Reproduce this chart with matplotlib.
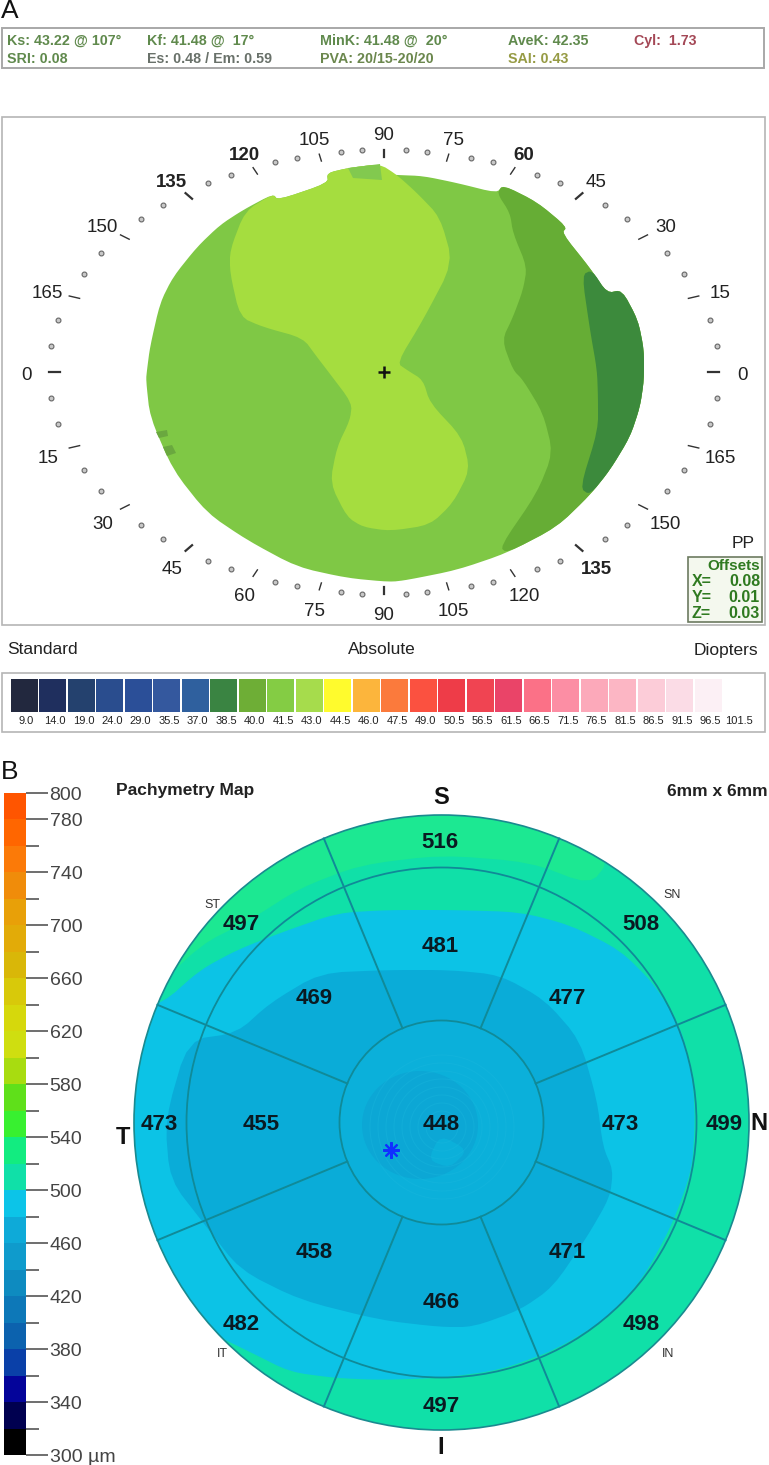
import numpy as np
import matplotlib
matplotlib.use('Agg')
import matplotlib.pyplot as plt
from matplotlib.patches import Polygon, Rectangle, Circle, Ellipse

plt.rcParams['font.family'] = ['Liberation Sans', 'DejaVu Sans']

W, H = 769, 1465

# panel A header
header_text = ['Ks: 43.22 @ 107°', 'Kf: 41.48 @  17°', 'MinK: 41.48 @  20°', 'AveK: 42.35', 'Cyl:  1.73',
               'SRI: 0.08', 'Es: 0.48 / Em: 0.59', 'PVA: 20/15-20/20', 'SAI: 0.43']
header_x = [7, 147, 320, 508, 634, 7, 147, 320, 508]
header_y = [41, 41, 41, 41, 41, 59, 59, 59, 59]
header_col = ['#4f7d3a', '#4f7d3a', '#4f7d3a', '#4f7d3a', '#9a3444', '#4f7d3a', '#59625a', '#5b7a3a', '#8b9030']

# panel A map outlines, picture pixels
map_outline = [(147, 370), (150, 347), (160, 303), (173, 277), (197, 247), (220, 225), (243, 210), (273, 194),
               (278, 200), (328, 183), (327, 173), (348, 168), (380, 164), (382, 174), (397, 175), (423, 176),
               (457, 183), (497, 193), (503, 185), (537, 202), (567, 227), (562, 233), (590, 268), (607, 293),
               (622, 290), (638, 320), (644, 350), (644, 380), (640, 407), (630, 437), (610, 470), (590, 495),
               (557, 527), (507, 553), (457, 570), (407, 580), (390, 582), (347, 578), (297, 567), (247, 540),
               (207, 513), (173, 470), (150, 417), (146, 380)]
lime_region = [(245, 211), (273, 194), (278, 200), (328, 183), (327, 173), (348, 168), (380, 164), (397, 175),
               (417, 193), (440, 217), (453, 263), (423, 320), (397, 363), (407, 370), (423, 380), (430, 403),
               (462, 437), (470, 470), (453, 503), (430, 525), (390, 531), (363, 527), (347, 517), (330, 483),
               (337, 447), (350, 420), (352, 403), (327, 370), (317, 357), (303, 338), (263, 327), (240, 317),
               (230, 273), (230, 250)]
top_patch = [(348, 168), (380, 164), (382, 180), (353, 178)]
mid_band = [(497, 193), (510, 213), (513, 233), (527, 267), (523, 290), (513, 317), (502, 340), (513, 370),
            (523, 380), (543, 413), (553, 453), (537, 493), (500, 547), (507, 553), (557, 527), (590, 495),
            (610, 470), (630, 437), (640, 407), (644, 380), (644, 350), (638, 320), (622, 290), (607, 293),
            (590, 268), (562, 233), (567, 227), (537, 202), (503, 185)]
dark_band = [(582, 275), (592, 270), (607, 293), (622, 290), (638, 320), (644, 350), (644, 380), (640, 407),
             (630, 437), (610, 470), (590, 495), (580, 488), (598, 430), (598, 397), (597, 370), (590, 330)]
left_spots = [[(156, 432), (167, 430), (168, 436), (159, 438)], [(163, 447), (172, 445), (176, 453), (167, 456)]]

angle_step = 5
label_angles = np.arange(0, 360, 15)
bold_angles = [135, 120, 60, 315]

# panel A colour legend
legend_labels = ['9.0', '14.0', '19.0', '24.0', '29.0', '35.5', '37.0', '38.5', '40.0', '41.5', '43.0', '44.5', '46.0',
                 '47.5', '49.0', '50.5', '56.5', '61.5', '66.5', '71.5', '76.5', '81.5', '86.5', '91.5', '96.5', '101.5']
legend_colors = ['#22283e', '#1f2f5e', '#24416e', '#2a4d8e', '#2b4f98', '#34589e', '#2f609e', '#3a8442', '#6eae36',
                 '#84cc44', '#a6dc4c', '#fffb2d', '#fcb53c', '#fb7a3c', '#fb5140', '#ee3c48', '#f04452', '#ea4468',
                 '#fb7187', '#fc8ea4', '#fca9ba', '#fcb6c4', '#fcccd8', '#fbdce6', '#fcf0f5', '#ffffff']

# panel B scale, top down
scale_edges = np.arange(800, 280, -20)
scale_colors = ['#ff5500', '#ff6600', '#fb7a08', '#f08c0a', '#e8a008', '#e2ab08', '#d9b708', '#d8c90a', '#d6d80c',
                '#cfde10', '#a8dc10', '#5fe01a', '#38f030', '#12ec80', '#10e0a8', '#0cc4e8', '#0eaad8', '#0f9bcc',
                '#0e8bc0', '#0d78b8', '#0c62ae', '#0a40a8', '#04049a', '#000050', '#000000']
scale_labeled = [800, 780, 740, 700, 660, 620, 580, 540, 500, 460, 420, 380, 340, 300]

# panel B values
thick_text = ['516', '481', '497', '469', '508', '477', '473', '455', '448', '473', '499',
              '458', '471', '482', '466', '498', '497']
thick_x = [440, 440, 241, 314, 641, 567, 159, 261, 441, 620, 724, 314, 567, 241, 441, 641, 441]
thick_y = [843, 946, 925, 998, 925, 998, 1125, 1125, 1125, 1125, 1125, 1252, 1252, 1325, 1303, 1325, 1407]
ring_radii = [16, 24, 32, 40, 48, 56, 64, 72]

green_top = [(140, 1005), (200, 945), (250, 920), (300, 888), (360, 865), (441, 855), (530, 862), (590, 885),
             (610, 860), (560, 800), (140, 800)]
blue_light = [(120, 1015), (163, 1003), (200, 970), (237, 950), (280, 933), (337, 913), (387, 910), (453, 910),
              (520, 912), (570, 925), (620, 950), (655, 985), (682, 1030), (693, 1080), (695, 1122), (692, 1170),
              (672, 1225), (642, 1280), (605, 1320), (555, 1350), (500, 1370), (441, 1378), (380, 1380), (335, 1378),
              (290, 1372), (250, 1352), (215, 1335), (120, 1240)]
blue_mid = [(237, 1033), (270, 1003), (320, 973), (387, 970), (450, 970), (500, 975), (545, 1000), (580, 1040),
            (597, 1100), (603, 1147), (613, 1170), (610, 1197), (587, 1237), (553, 1287), (520, 1310), (473, 1327),
            (440, 1327), (380, 1320), (300, 1300), (240, 1270), (205, 1225), (170, 1180), (165, 1120), (188, 1040)]
center_patch = [(440, 1135), (428, 1160), (450, 1168), (468, 1150)]

fig = plt.figure(figsize=(W / 100, H / 100), dpi=100)
ax = fig.add_axes([0, 0, 1, 1])
ax.set_xlim(0, W)
ax.set_ylim(H, 0)
ax.axis('off')


def sub_axes(x0, y0, x1, y1):
    return fig.add_axes([x0 / W, 1 - y1 / H, (x1 - x0) / W, (y1 - y0) / H])


def soft(pts, n=2):
    # rounds the corners of a closed outline
    p = np.array(pts, dtype=float)
    for _ in range(n):
        q = np.roll(p, -1, axis=0)
        p = np.column_stack([0.8 * p + 0.2 * q, 0.2 * p + 0.8 * q]).reshape(-1, 2)
    return p


ax.text(1, 11, 'A', fontsize=19, va='center', color='#111111')
ax.text(1, 772, 'B', fontsize=19, va='center', color='#111111')

# header box
ax.add_patch(Rectangle((2, 28), 762, 40, fc='white', ec='#a8a8a8', lw=1.4))
for t, x, y, c in zip(header_text, header_x, header_y, header_col):
    ax.text(x, y, t, fontsize=10.3, fontweight='bold', color=c, va='center', alpha=0.9)

# map frame
ax.add_patch(Rectangle((2, 117), 763, 508, fc='white', ec='#b5b5b5', lw=1.2))
ax.add_patch(Polygon(soft(map_outline), fc='#7fc845', ec='none'))
ax.add_patch(Polygon(soft(mid_band), fc='#66ad35', ec='none'))
ax.add_patch(Polygon(soft(dark_band), fc='#3c8a3c', ec='none'))
ax.add_patch(Polygon(soft(lime_region), fc='#a5dd3f', ec='none'))
ax.add_patch(Polygon(top_patch, fc='#82c94f', ec='none'))
for s in left_spots:
    ax.add_patch(Polygon(s, fc='#6aa83f', ec='none'))
ax.plot([384], [372], marker='+', ms=9, mew=1.8, color='#111111')

# angle ring
cx, cy = 384, 372
for a in np.arange(0, 360, angle_step):
    th = np.radians(a)
    t = np.arctan2(1.36 * np.sin(th), np.cos(th))
    px = cx + 335 * np.cos(t)
    py = cy - 222 * np.sin(t)
    if a % 15 == 0:
        px2 = cx + 324 * np.cos(t)
        py2 = cy - 215 * np.sin(t)
        ax.plot([px, px2], [py, py2], color='#333333', lw=1.6 if a % 45 == 0 else 1.0)
    else:
        ax.plot([px], [py], 'o', ms=3.5, mfc='#c8c8c8', mec='#666666', mew=0.8)
for a in label_angles:
    th = np.radians(a)
    t = np.arctan2(1.36 * np.sin(th), np.cos(th))
    ax.text(cx + 358 * np.cos(t), 376 - 240 * np.sin(t), str(a % 180), fontsize=13.5, color='#222222',
            ha='center', va='center', fontweight='bold' if a in bold_angles else 'normal')

ax.text(743, 544, 'PP', fontsize=12.5, color='#222222', ha='center', va='center')
ax.add_patch(Rectangle((688, 557), 74, 65, fc='#f4f8ee', ec='#6c7a60', lw=1.2))
ax.text(760, 566, 'Offsets', fontsize=11, fontweight='bold', color='#2f7a20', ha='right', va='center')
for lab, val, y in zip(['X=', 'Y=', 'Z='], ['0.08', '0.01', '0.03'], [581, 598, 614]):
    ax.text(692, y, lab, fontsize=11.5, fontweight='bold', color='#2f7a20', va='center')
    ax.text(760, y, val, fontsize=11.5, fontweight='bold', color='#2f7a20', ha='right', va='center')

ax.text(7, 650, 'Standard', fontsize=12.5, color='#222222', va='center')
ax.text(382, 650, 'Absolute', fontsize=12.5, color='#222222', ha='center', va='center')
ax.text(758, 650, 'Diopters', fontsize=12.5, color='#222222', ha='right', va='center')

# colour legend
ax.add_patch(Rectangle((2, 673), 763, 59, fc='white', ec='#b5b5b5', lw=1.2))
lax = sub_axes(10, 679, 751, 712)
lax.bar(np.arange(len(legend_colors)) + 0.5, 1, width=0.96, color=legend_colors)
lax.set_xlim(0, len(legend_colors))
lax.set_ylim(0, 1)
lax.set_yticks([])
lax.set_xticks(np.arange(len(legend_labels)) + 0.58)
lax.set_xticklabels(legend_labels, fontsize=8, color='#222222')
lax.tick_params(axis='x', length=0, pad=3)
for s in lax.spines.values():
    s.set_visible(False)

# thickness scale
sax = sub_axes(4, 793, 26, 1455)
for top, c in zip(scale_edges, scale_colors):
    sax.bar(0.5, 20, bottom=top - 20, width=1, color=c)
sax.set_xlim(0, 1)
sax.set_ylim(300, 800)
sax.set_xticks([])
sax.yaxis.tick_right()
sax.set_yticks(scale_labeled)
sax.set_yticklabels([str(v) if v != 300 else '300 µm' for v in scale_labeled], fontsize=14, color='#444444')
sax.set_yticks([v for v in np.arange(300, 801, 20) if v not in scale_labeled], minor=True)
sax.tick_params(axis='y', which='major', length=16, width=1.2, color='#555555', pad=1)
sax.tick_params(axis='y', which='minor', length=9, width=1.2, color='#555555')
for s in sax.spines.values():
    s.set_visible(False)

# pachymetry disc
bx, by = 441.5, 1122.5
r_out, r_mid, r_in = 307.5, 255, 102
clip = Circle((bx, by), r_out, transform=ax.transData)
disc = Circle((bx, by), r_out, fc='#10e0a8', ec='none')
ax.add_patch(disc)
layers = [Polygon(soft(green_top), fc='#1ce892', ec='none'),
          Polygon(soft(blue_light), fc='#0cc3e6', ec='none'),
          Polygon(soft(blue_mid), fc='#0aacd8', ec='none'),
          Circle((bx, by), r_in, fc='#0bb0da', ec='none'),
          Ellipse((420, 1125), 116, 108, fc='#0ca7d5', ec='none'),
          Polygon(soft(center_patch), fc='#0bb0da', ec='none')]
for p in layers:
    ax.add_patch(p)
    p.set_clip_path(clip)
for r in ring_radii:
    ax.add_patch(Circle((442, 1127), r, fc='none', ec='#1bb8de', lw=0.8, alpha=0.35))

line_c = '#108a98'
for r in [r_mid, r_in]:
    ax.add_patch(Circle((bx, by), r, fc='none', ec=line_c, lw=1.3))
ax.add_patch(Circle((bx, by), r_out, fc='none', ec='#1a8a90', lw=1.2))
for k in range(8):
    th = np.radians(22.5 + 45 * k)
    ax.plot([bx + r_in * np.cos(th), bx + r_out * np.cos(th)], [by - r_in * np.sin(th), by - r_out * np.sin(th)],
            color=line_c, lw=1.4)

ax.plot([391], [1150], marker=(8, 2, 0), ms=12, mew=1.5, color='#1030ff')

for t, x, y in zip(thick_text, thick_x, thick_y):
    ax.text(x, y, t, fontsize=16, fontweight='bold', color='#0a1a22', ha='center', va='center')

ax.text(116, 790, 'Pachymetry Map', fontsize=12.5, fontweight='bold', color='#222222', va='center')
ax.text(768, 791, '6mm x 6mm', fontsize=12.5, fontweight='bold', color='#222222', ha='right', va='center')
for t, x, y in zip(['S', 'T', 'N', 'I'], [441, 123, 759, 441], [797, 1137, 1123, 1448]):
    ax.text(x, y, t, fontsize=17, fontweight='bold', color='#111111', ha='center', va='center')
for t, x, y in zip(['ST', 'SN', 'IT', 'IN'], [212, 672, 222, 668], [905, 895, 1354, 1354]):
    ax.text(x, y, t, fontsize=9, color='#333333', ha='center', va='center')

fig.savefig('out.png', dpi=100)
